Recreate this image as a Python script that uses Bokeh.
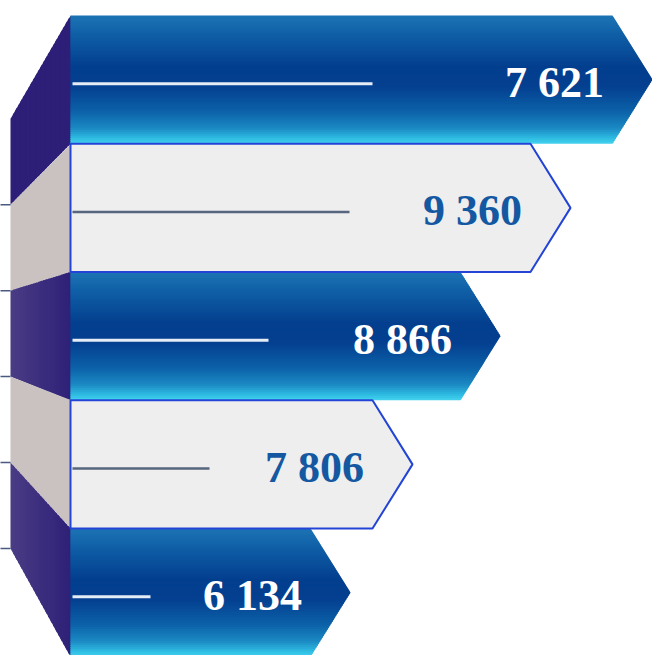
from bokeh.plotting import figure
from bokeh.models import Range1d, ColumnDataSource
from bokeh.core.properties import value
from bokeh.embed import file_html
from bokeh.resources import INLINE

# ---- data (top row first) ----
values = [7621, 9360, 8866, 7806, 6134]          # value labels
bar_len = [542, 460, 390, 302, 240]              # visual length of each arrow body
line_len = [300, 277, 196, 137, 78]              # length of the thin inner line
row_kind = ["blue", "grey", "blue", "grey", "blue"]

labels = [f"{v:,}".replace(",", " ") for v in values]

# ---- layout / style constants ----
ROW_TOP0 = 15.0
ROW_H = 128.25
TIP = 40.0
DEPTH = 60.0          # width of the perspective side face
VP_Y = 328.0          # vanishing-point height for the side faces
K = 0.67              # perspective shrink of the far edge

BLUE_STOPS = [(0.0, "#1c74b4"), (0.15, "#0f5fa6"), (0.40, "#033f8e"), (0.55, "#043f90"),
              (0.75, "#0c62a8"), (0.88, "#1b8ac4"), (0.96, "#2fbde3"), (1.0, "#45d3f0")]


def hex2rgb(h):
    h = h.lstrip("#")
    return tuple(int(h[i:i + 2], 16) for i in (0, 2, 4))


def rgb2hex(c):
    return "#%02x%02x%02x" % tuple(max(0, min(255, int(round(v)))) for v in c)


def mix(a, b, t):
    ca, cb = hex2rgb(a), hex2rgb(b)
    return rgb2hex([ca[i] + (cb[i] - ca[i]) * t for i in range(3)])


def grad(stops, t):
    for (t0, c0), (t1, c1) in zip(stops[:-1], stops[1:]):
        if t <= t1:
            return mix(c0, c1, (t - t0) / (t1 - t0) if t1 > t0 else 0)
    return stops[-1][1]


W, H = 652, 655
p = figure(width=W, height=H, x_range=Range1d(-70, W - 70), y_range=Range1d(H, 0),
           output_backend="svg", toolbar_location=None, min_border=0)
p.xaxis.visible = False
p.yaxis.visible = False
p.grid.visible = False
p.outline_line_color = None
p.background_fill_color = "white"
p.border_fill_color = "white"

n = len(values)
tops = [ROW_TOP0 + ROW_H * i for i in range(n)]
bots = [t + ROW_H for t in tops]
mids = [(t + b) / 2 for t, b in zip(tops, bots)]


def far(y):
    return VP_Y + K * (y - VP_Y)


# ---- perspective side faces ----
fx, fy, fc = [], [], []
for i in range(n):
    t, b = tops[i], bots[i]
    tl, bl = far(t), far(b)
    if row_kind[i] == "grey":
        fx.append([-DEPTH, 0.5, 0.5, -DEPTH]); fy.append([tl, t, b, bl]); fc.append("#cac1c1")
    else:
        m = 24
        for j in range(m):
            a0, a1 = j / m, (j + 1) / m
            a1e = min(1.0, a1 + 0.6 / m)
            xa, xb = -DEPTH + DEPTH * a0, -DEPTH + DEPTH * a1e + (0.5 if j == m - 1 else 0)
            ta, tb = tl + (t - tl) * a0, tl + (t - tl) * a1e
            ba, bb = bl + (b - bl) * a0, bl + (b - bl) * a1e
            c = "#2d1e78" if i == 0 else mix("#4a3c84", "#2e2077", (a0 + a1) / 2)
            fx.append([xa, xb, xb, xa]); fy.append([ta, tb, bb, ba]); fc.append(c)
p.patches(xs="xs", ys="ys", fill_color="c", line_color=None,
          source=ColumnDataSource(dict(xs=fx, ys=fy, c=fc)))

# thin rule stubs at the far left
stub_y = [far(b) for b in [tops[1]] + bots[1:]]
p.segment(x0=[-80] * len(stub_y), x1=[-DEPTH] * len(stub_y), y0=stub_y, y1=stub_y,
          line_color="#4a5a80", line_width=1.5)


def right_edge(L, mid, hh, y):
    return L + TIP * max(0.0, 1 - abs(y - mid) / hh)


# ---- blue arrows as gradient strips (each strip overlaps the next one) ----
bx, by, bc = [], [], []
for i in range(n):
    if row_kind[i] != "blue":
        continue
    t, b, mid, L = tops[i], bots[i], mids[i], bar_len[i]
    hh = (b - t) / 2
    m = 64
    for j in range(m):
        ya = t + (b - t) * j / m
        yb = min(b, t + (b - t) * (j + 1) / m + 1.2)
        xs = [0, right_edge(L, mid, hh, ya)]
        ys = [ya, ya]
        if ya < mid < yb:
            xs.append(L + TIP); ys.append(mid)
        xs += [right_edge(L, mid, hh, yb), 0]
        ys += [yb, yb]
        bx.append(xs); by.append(ys); bc.append(grad(BLUE_STOPS, (j + 0.5) / m))
p.patches(xs="xs", ys="ys", fill_color="c", line_color=None,
          source=ColumnDataSource(dict(xs=bx, ys=by, c=bc)))

# ---- grey arrows ----
gx, gy = [], []
for i in range(n):
    if row_kind[i] != "grey":
        continue
    t, b, mid, L = tops[i], bots[i], mids[i], bar_len[i]
    gx.append([0, L, L + TIP, L, 0]); gy.append([t, t, mid, b, b])
p.patches(xs=gx, ys=gy, fill_color="#eeeeee", line_color="#2344d6", line_width=2)

# ---- inner lines ----
ly = [m + 4 for m in mids]
lc = ["#e4ecf6" if k == "blue" else "#56667e" for k in row_kind]
lw = [3 if k == "blue" else 2.5 for k in row_kind]
p.segment(x0=[2] * n, x1=[2 + v for v in line_len], y0=ly, y1=ly,
          line_color=lc, line_width=lw)

# ---- value labels ----
tc = ["white" if k == "blue" else "#1558a2" for k in row_kind]
p.text(x=[L - 58 for L in bar_len], y=[m + 3 for m in mids], text=labels,
       text_font=value("Liberation Serif"), text_font_style="bold", text_font_size="44px",
       text_align="center", text_baseline="middle", text_color=tc)

open("out.html", "w").write(file_html(p, INLINE))
